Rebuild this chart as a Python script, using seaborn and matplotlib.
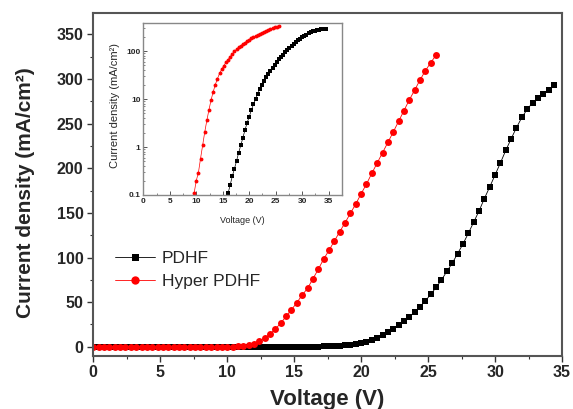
import numpy as np
import pandas as pd
import matplotlib
matplotlib.use("Agg")
import matplotlib.pyplot as plt
import matplotlib.ticker as mticker
import seaborn as sns

# ---------------- data ----------------
step_v = 0.4
# PDHF (black squares), 0 .. 34.4 V
pdhf_v = [round(i * step_v, 1) for i in range(87)]
pdhf_j = ([0.0] * 37 +                       # 0.0 .. 14.4 V
          [0.03, 0.05, 0.07,                  # 14.8 .. 15.6
           0.108, 0.162, 0.245, 0.35, 0.51, 0.76, 1.08, 1.56, 2.26, 3.2,
           4.27, 5.9, 7.75, 10.0, 12.9, 16.2, 20.0, 24.0, 28.8, 33.6,
           38.9, 44.8, 51.6, 58.7, 66.6, 74.8, 84.5, 93.5, 104.3, 115.0,
           127.0, 139.5, 152.0, 166.0, 179.0, 192.5, 206.0, 220.0, 233.0, 245.5,
           257.0, 266.0, 273.5, 279.0, 283.0, 288.0, 293.0])
# Hyper PDHF (red circles), 0 .. 25.6 V
hyper_v = [round(i * step_v, 1) for i in range(65)]
hyper_j = ([0.0] * 22 +                      # 0.0 .. 8.4 V
           [0.03, 0.06,                       # 8.8, 9.2
            0.11, 0.2, 0.29, 0.57, 1.08, 2.05, 3.6, 6.0, 9.6, 14.2,
            20.0, 26.5, 34.2, 41.5, 49.5, 58.0, 65.5, 76.2, 86.8, 98.3,
            108.0, 118.5, 128.9, 139.0, 149.6, 160.0, 171.5, 182.4, 194.4, 206.0,
            217.5, 229.1, 240.7, 252.7, 264.7, 276.7, 287.7, 299.0, 309.4, 318.4,
            327.0])

labels = ["PDHF", "Hyper PDHF"]
main_xticks = [0, 5, 10, 15, 20, 25, 30, 35]
main_yticks = [0, 50, 100, 150, 200, 250, 300, 350]
inset_yticks = [0.1, 1, 10, 100]
inset_yticklabels = ["0.1", "1", "10", "100"]

df_p = pd.DataFrame({"V": pdhf_v, "J": pdhf_j})
df_h = pd.DataFrame({"V": hyper_v, "J": hyper_j})

# ---------------- style ----------------
sns.set_style("ticks")
plt.rcParams["font.family"] = ["Liberation Sans", "DejaVu Sans"]

W, H = 573, 409
fig = plt.figure(figsize=(W / 100, H / 100), dpi=100)

def fx(px):
    return px / W

def fy(py):
    return 1 - py / H

# main axes
L, R, T, B = 93.3, 562.0, 13.0, 355.7
ax = fig.add_axes([fx(L), fy(B), fx(R) - fx(L), fy(T) - fy(B)])

sns.lineplot(data=df_p, x="V", y="J", ax=ax, color="black", marker="s",
             markersize=4.2, markeredgewidth=0, linewidth=0.6,
             estimator=None, sort=False, label=labels[0])
sns.lineplot(data=df_h, x="V", y="J", ax=ax, color="#ff0000", marker="o",
             markersize=5.0, markeredgewidth=0, linewidth=0.6,
             estimator=None, sort=False, label=labels[1])

ax.set_xlim(0, 35)
ax.set_ylim(-10, 374)
ax.set_xticks(main_xticks)
ax.set_yticks(main_yticks)
ax.xaxis.set_minor_locator(mticker.MultipleLocator(2.5))
ax.yaxis.set_minor_locator(mticker.MultipleLocator(25))
ax.tick_params(which="both", direction="out", color="#333333")
ax.tick_params(which="major", length=4, width=1.0, labelsize=11.5, pad=3)
ax.tick_params(which="minor", length=2.5, width=0.8)
for lab in ax.get_xticklabels() + ax.get_yticklabels():
    lab.set_fontweight("bold")
for s in ax.spines.values():
    s.set_visible(True)
    s.set_color("#555555")
    s.set_linewidth(1.5)

ax.set_xlabel("Voltage (V)", fontsize=16, fontweight="bold")
ax.set_ylabel("Current density (mA/cm²)", fontsize=15, fontweight="bold")
ax.xaxis.set_label_coords(0.5, -0.098)
ax.yaxis.set_label_coords(-0.124, 0.476)

ax.legend(loc="upper left", bbox_to_anchor=(fx(115), fy(251)),
          bbox_transform=fig.transFigure, frameon=False, fontsize=12.5,
          borderpad=0, borderaxespad=0, handlelength=2.3,
          handletextpad=0.4, labelspacing=0.45, markerscale=1.2)

# inset axes
iL, iR, iT, iB = 143.3, 342.3, 23.3, 195.0
ax2 = fig.add_axes([fx(iL), fy(iB), fx(iR) - fx(iL), fy(iT) - fy(iB)])
df_p2 = df_p[df_p["J"] > 0]
df_h2 = df_h[df_h["J"] > 0]
sns.lineplot(data=df_p2, x="V", y="J", ax=ax2, color="black", marker="s",
             markersize=2.4, markeredgewidth=0, linewidth=0.5,
             estimator=None, sort=False, legend=False)
sns.lineplot(data=df_h2, x="V", y="J", ax=ax2, color="#ff0000", marker="o",
             markersize=2.8, markeredgewidth=0, linewidth=0.5,
             estimator=None, sort=False, legend=False)
ax2.set_yscale("log")
ax2.set_xlim(0, 37.57)
ax2.set_ylim(0.1, 378)
ax2.set_xticks(main_xticks)
ax2.set_yticks(inset_yticks)
ax2.set_yticklabels(inset_yticklabels)
ax2.yaxis.set_minor_locator(mticker.LogLocator(base=10, subs=np.arange(2, 10)))
ax2.yaxis.set_minor_formatter(mticker.NullFormatter())
ax2.xaxis.set_minor_locator(mticker.MultipleLocator(2.5))
ax2.tick_params(which="both", direction="in", color="#555555")
ax2.tick_params(which="major", length=3, width=0.7, labelsize=6, pad=2)
ax2.tick_params(which="minor", length=1.5, width=0.5)
for lab in ax2.get_xticklabels() + ax2.get_yticklabels():
    lab.set_fontweight("bold")
for s in ax2.spines.values():
    s.set_visible(True)
    s.set_color("#888888")
    s.set_linewidth(1.0)
ax2.set_xlabel("Voltage (V)", fontsize=6.5)
ax2.set_ylabel("Current density (mA/cm²)", fontsize=8)
ax2.xaxis.set_label_coords(0.5, -0.12)
ax2.yaxis.set_label_coords(-0.115, 0.524)

fig.savefig("out.png", dpi=100)
